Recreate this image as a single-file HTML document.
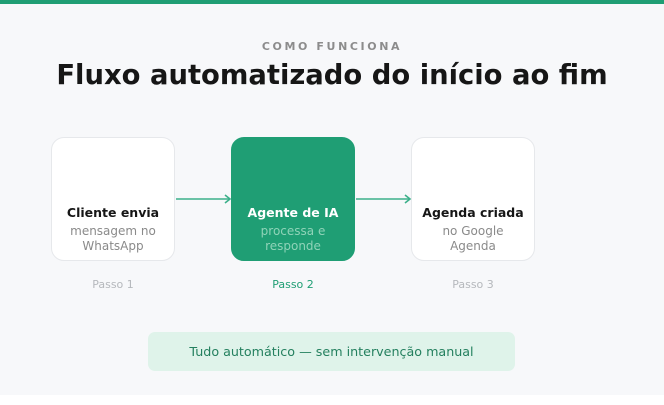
<!DOCTYPE html>
<html><head><meta charset="utf-8"><style>
*{margin:0;padding:0;box-sizing:border-box}
body{width:664px;height:405px;background:#fff;font-family:"DejaVu Sans","Liberation Sans",sans-serif;position:relative;overflow:hidden}
.bg{position:absolute;left:0;top:0;width:664px;height:395px;background:#f7f8fa}
.bar{position:absolute;left:0;top:0;width:664px;height:4px;background:#1f9e74}
.c{position:absolute;left:0;width:664px;text-align:center}
.box{position:absolute;top:137px;width:124px;height:124px;border-radius:13px;background:#fff;border:1px solid #e6e8eb;text-align:center}
.box .t{position:absolute;top:67px;width:100%;font-size:12.5px;font-weight:bold;color:#161616}
.box .s{position:absolute;top:86px;width:100%;font-size:12px;line-height:15px;color:#8a8a8a}
.g{background:#1f9e74;border-color:#1f9e74}
.g .t{color:#fff}.g .s{color:#8fd3b8}
.p{position:absolute;top:278px;width:124px;text-align:center;font-size:11px;color:#b5b8bc}
</style></head><body>
<div class="bg"></div><div class="bar"></div>
<div class="c" style="top:40px;font-size:11px;font-weight:bold;letter-spacing:2.6px;color:#8c8c8c">COMO FUNCIONA</div>
<div class="c" style="top:60px;font-size:27.4px;font-weight:bold;color:#161616">Fluxo automatizado do início ao fim</div>
<div class="box" style="left:51px"><div class="t">Cliente envia</div><div class="s">mensagem no<br>WhatsApp</div></div>
<div class="box g" style="left:231px"><div class="t">Agente de IA</div><div class="s">processa e<br>responde</div></div>
<div class="box" style="left:411px"><div class="t">Agenda criada</div><div class="s">no Google<br>Agenda</div></div>
<svg style="position:absolute;left:0;top:0" width="664" height="405">
<g stroke="#3cb08a" stroke-width="1.6" fill="none">
<line x1="176" y1="199" x2="230" y2="199"/><polyline points="225,195 230,199 225,203"/>
<line x1="356" y1="199" x2="410" y2="199"/><polyline points="405,195 410,199 405,203"/>
</g></svg>
<div class="p" style="left:51px">Passo 1</div>
<div class="p" style="left:231px;color:#1f9e74">Passo 2</div>
<div class="p" style="left:411px">Passo 3</div>
<div style="position:absolute;left:148px;top:332px;width:367px;height:39px;border-radius:7px;background:#dff3ea;text-align:center;line-height:39px;font-size:12.7px;color:#24805f">Tudo automático — sem intervenção manual</div>
</body></html>
